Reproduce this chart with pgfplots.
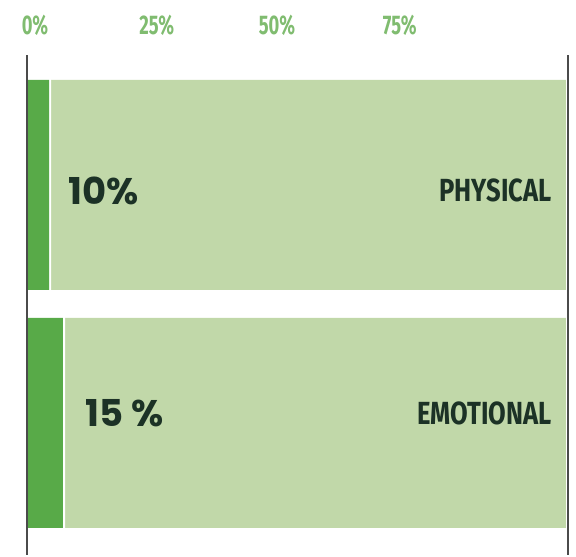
\documentclass[border=0pt]{standalone}
\usepackage{pgfplots}
\pgfplotsset{compat=1.18}
\usepackage{fontspec}
\setmainfont{Fira Sans}
\newfontfamily\pctfont{Poppins}
\newfontfamily\condfont[FakeStretch=0.8]{Fira Sans}
\newfontfamily\tickfont[FakeStretch=0.68]{Fira Sans}
\definecolor{lightbar}{RGB}{193,216,169}
\definecolor{darkbar}{RGB}{88,170,72}
\definecolor{labeltext}{RGB}{28,50,38}
\definecolor{ticktext}{RGB}{128,188,112}
\definecolor{axisgray}{RGB}{75,75,75}
\begin{document}
\begin{tikzpicture}
\begin{axis}[
    scale only axis,
    width=541pt, height=500pt,
    xmin=0, xmax=100,
    ymin=-0.555, ymax=1.546,
    xbar stacked,
    bar width=0.882,
    axis x line*=top,
    axis y line*=left,
    x axis line style={draw=none},
    y axis line style={draw=none},
    xtick={1.48,24.0,46.2,68.9},
    xticklabels={0\%,25\%,50\%,75\%},
    major tick length=0pt,
    xticklabel style={font=\tickfont\bfseries\fontsize{27}{27}\selectfont, text=ticktext, anchor=south, yshift=16pt},
    ytick=\empty,
    clip=false,
]
% dark part (drawn length), white gap, light rest
\addplot[fill=darkbar, draw=none] coordinates {(4.07,1) (6.65,0)};
\addplot[fill=white, draw=none] coordinates {(0.4,1) (0.4,0)};
\addplot[fill=lightbar, draw=none] coordinates {(95.13,1) (92.55,0)};
\coordinate (bl) at (rel axis cs:0,0);
\coordinate (tl) at (rel axis cs:0,1);
\coordinate (br) at (rel axis cs:1,0);
\coordinate (tr) at (rel axis cs:1,1);
\coordinate (v1) at (axis cs:7.1,0.975);
\coordinate (v2) at (axis cs:10.2,0.04);
\coordinate (c1) at (axis cs:97.6,0.975);
\coordinate (c2) at (axis cs:97.6,0.04);
\end{axis}
\draw[axisgray, line width=2.6pt] (bl) -- (tl);
\draw[axisgray, line width=2.6pt] (br) -- (tr);
\node[anchor=west, text=labeltext, font=\pctfont\bfseries\fontsize{37}{37}\selectfont] at (v1) {10\%};
\node[anchor=west, text=labeltext, font=\pctfont\bfseries\fontsize{37}{37}\selectfont] at (v2) {15 \%};
\node[anchor=east, text=labeltext, font=\condfont\bfseries\fontsize{32}{32}\selectfont] at (c1) {PHYSICAL};
\node[anchor=east, text=labeltext, font=\condfont\bfseries\fontsize{32}{32}\selectfont] at (c2) {EMOTIONAL};
\path[use as bounding box] (-27pt,0pt) rectangle (549pt,555pt);
\end{tikzpicture}
\end{document}
